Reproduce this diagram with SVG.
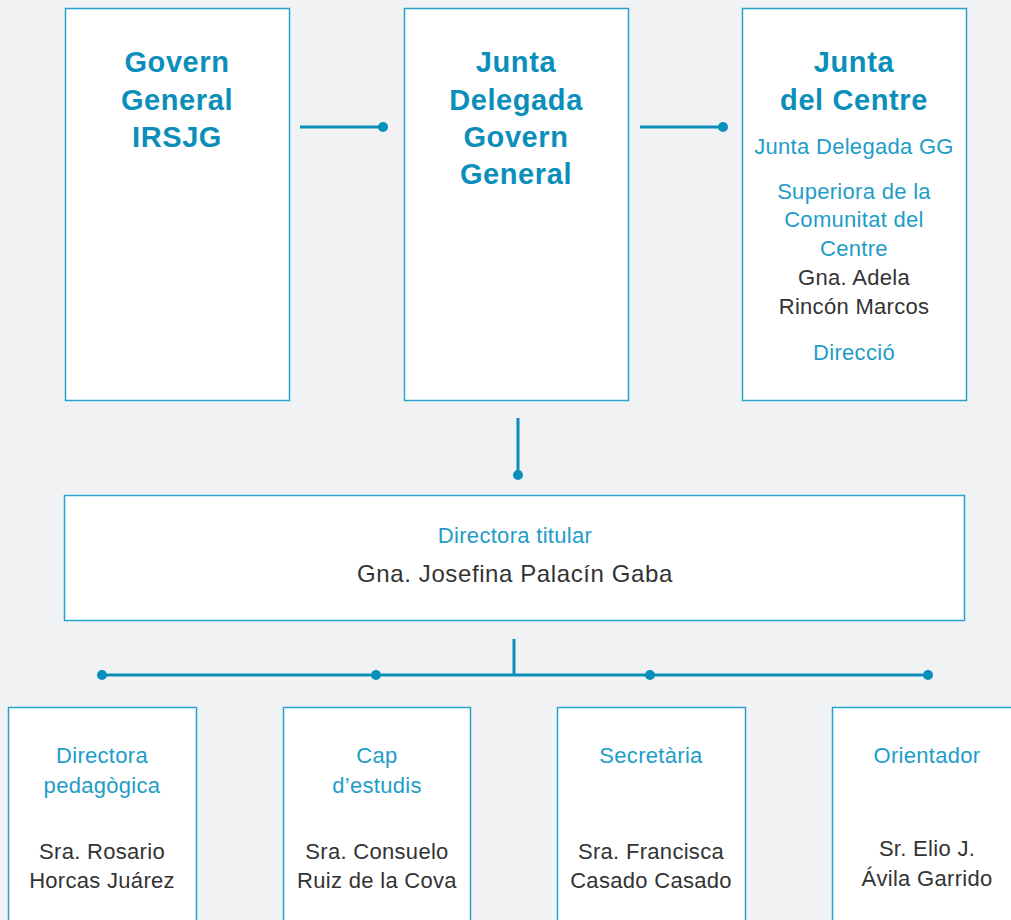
<svg xmlns="http://www.w3.org/2000/svg" width="1011" height="920" viewBox="0 0 1011 920">
<style>
.box{fill:#ffffff;stroke:#2aa3cc;stroke-width:1.5}
.t{font-family:"Liberation Sans",Arial,sans-serif;text-anchor:middle}
.h{font-size:29px;font-weight:bold;fill:#0b8fba;letter-spacing:0.6px}
.b{font-size:22px;fill:#1e9dc8;letter-spacing:0.3px}
.k{font-size:22px;fill:#333333;letter-spacing:0.3px}
.ln{stroke:#0a8fba;stroke-width:3;fill:none}
.dot{fill:#0a8fba}
</style>
<rect width="1011" height="920" fill="#f1f2f4"/>
<g id="connectors">
<line class="ln" x1="300" y1="127" x2="383" y2="127"/><circle class="dot" cx="383" cy="127" r="5"/>
<line class="ln" x1="640" y1="127" x2="723" y2="127"/><circle class="dot" cx="723" cy="127" r="5"/>
<line class="ln" x1="518" y1="418" x2="518" y2="475"/><circle class="dot" cx="518" cy="475" r="5"/>
<line class="ln" x1="514" y1="639" x2="514" y2="675"/>
<line class="ln" x1="102" y1="675" x2="928" y2="675"/>
<circle class="dot" cx="102" cy="675" r="5"/><circle class="dot" cx="376" cy="675" r="5"/><circle class="dot" cx="650" cy="675" r="5"/><circle class="dot" cx="928" cy="675" r="5"/>
</g>
<g id="govern">
<rect class="box" x="65.5" y="8.5" width="224" height="392"/>
<text class="t h" x="177" y="72">Govern</text>
<text class="t h" x="177" y="110">General</text>
<text class="t h" x="177" y="147">IRSJG</text>
</g>
<g id="junta-delegada">
<rect class="box" x="404.5" y="8.5" width="224" height="392"/>
<text class="t h" x="516" y="72">Junta</text>
<text class="t h" x="516" y="110">Delegada</text>
<text class="t h" x="516" y="147">Govern</text>
<text class="t h" x="516" y="184">General</text>
</g>
<g id="junta-centre">
<rect class="box" x="742.5" y="8.5" width="224" height="392"/>
<text class="t h" x="854" y="72">Junta</text>
<text class="t h" x="854" y="110">del Centre</text>
<text class="t b" x="854" y="154">Junta Delegada GG</text>
<text class="t b" x="854" y="199">Superiora de la</text>
<text class="t b" x="854" y="227">Comunitat del</text>
<text class="t b" x="854" y="256">Centre</text>
<text class="t k" x="854" y="285">Gna. Adela</text>
<text class="t k" x="854" y="314">Rincón Marcos</text>
<text class="t b" x="854" y="360">Direcció</text>
</g>
<g id="directora-titular">
<rect class="box" x="64.5" y="495.5" width="900" height="125"/>
<text class="t b" x="515" y="543">Directora titular</text>
<text class="t k" x="515" y="582" style="font-size:24px;letter-spacing:0.6px">Gna. Josefina Palacín Gaba</text>
</g>
<g id="directora-pedagogica">
<rect class="box" x="8.5" y="707.5" width="188" height="230"/>
<text class="t b" x="102" y="763">Directora</text>
<text class="t b" x="102" y="793">pedagògica</text>
<text class="t k" x="102" y="859">Sra. Rosario</text>
<text class="t k" x="102" y="888">Horcas Juárez</text>
</g>
<g id="cap-estudis">
<rect class="box" x="283.5" y="707.5" width="187" height="230"/>
<text class="t b" x="377" y="763">Cap</text>
<text class="t b" x="377" y="793">d’estudis</text>
<text class="t k" x="377" y="859">Sra. Consuelo</text>
<text class="t k" x="377" y="888">Ruiz de la Cova</text>
</g>
<g id="secretaria">
<rect class="box" x="557.5" y="707.5" width="188" height="230"/>
<text class="t b" x="651" y="763">Secretària</text>
<text class="t k" x="651" y="859">Sra. Francisca</text>
<text class="t k" x="651" y="888">Casado Casado</text>
</g>
<g id="orientador">
<rect class="box" x="832.5" y="707.5" width="200" height="230"/>
<text class="t b" x="927" y="763">Orientador</text>
<text class="t k" x="927" y="856">Sr. Elio J.</text>
<text class="t k" x="927" y="886">Ávila Garrido</text>
</g>
</svg>
